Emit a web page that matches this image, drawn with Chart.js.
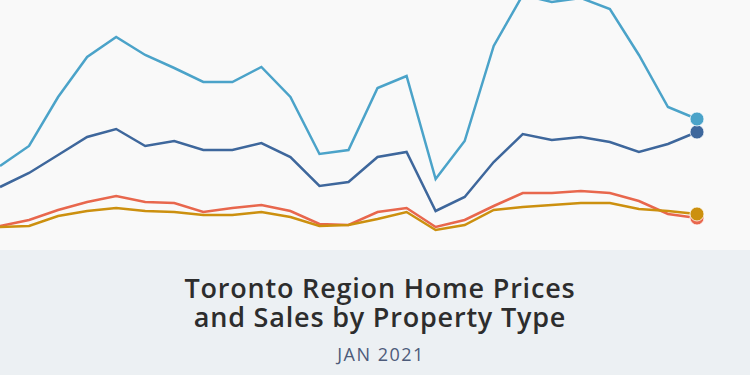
<!DOCTYPE html>
<html>
<head>
<meta charset="utf-8">
<script src="https://cdn.jsdelivr.net/npm/chart.js@4.4.1/dist/chart.umd.min.js"></script>
<style>
  html,body{margin:0;padding:0;background:#f9f9f9;}
  #wrap{position:relative;width:750px;height:375px;overflow:hidden;background:#f9f9f9;}
  #chartBox{position:absolute;left:0;top:0;width:750px;height:250px;}
  #band{position:absolute;left:0;top:250px;width:750px;height:125px;background:#ecf0f3;}
  .t{position:absolute;left:0;width:750px;text-align:center;white-space:nowrap;font-family:"Open Sans",sans-serif;}
  #t1,#t2{left:5px;font-size:27px;font-weight:600;color:#2d2d2d;line-height:29px;letter-spacing:0.8px;}
  #t1{top:23px;}
  #t2{top:52px;}
  #sub{left:6px;top:94px;font-size:18px;line-height:20px;color:#4d5b7a;letter-spacing:1.5px;}
</style>
</head>
<body>
<div id="wrap">
  <div id="chartBox"><canvas id="chartGrafik" width="750" height="250"></canvas></div>
  <div id="band">
    <div class="t" id="t1">Toronto Region Home Prices</div>
    <div class="t" id="t2">and Sales by Property Type</div>
    <div class="t" id="sub">JAN 2021</div>
  </div>
</div>
<script>
document.addEventListener("DOMContentLoaded",()=>{

// ================= DATA =================
const bulan = [
  "Jan 2019","Feb 2019","Mar 2019","Apr 2019","May 2019","Jun 2019","Jul 2019","Aug 2019",
  "Sep 2019","Oct 2019","Nov 2019","Dec 2019","Jan 2020","Feb 2020","Mar 2020","Apr 2020",
  "May 2020","Jun 2020","Jul 2020","Aug 2020","Sep 2020","Oct 2020","Nov 2020","Dec 2020","Jan 2021"
];

const lightBlue = [84,104,153,193,213,195,182,168,168,183,153,96,100,162,174,71,109,204,255,248,252,241,195,143,131];
const darkBlue  = [63,77,95,113,121,104,109,100,100,107,93,64,68,93,98,39,53,88,116,110,113,108,98,106,118];
const gold      = [23,24,34,39,42,39,38,35,35,38,33,24,25,31,38,20,25,40,43,45,47,47,41,39,36];
const merah     = [24,30,40,48,54,48,47,38,42,45,39,26,25,38,42,23,30,44,57,57,59,57,49,36,32];

// ================= WARNA =================
const seriesCfg = [
  { data: lightBlue, color: "#4ba3c9" },
  { data: darkBlue,  color: "#3e679c" },
  { data: gold,      color: "#cc900f" },
  { data: merah,     color: "#e8674d" }
];

const last = bulan.length - 1;

const ctx = document.getElementById("chartGrafik").getContext("2d");

new Chart(ctx,{
  type:"line",
  data:{
    labels: bulan,
    datasets: seriesCfg.map(s=>({
      data: s.data,
      borderColor: s.color,
      backgroundColor: s.color,
      borderWidth: 2.5,
      tension: 0,
      fill: false,
      // titik hanya di bulan terakhir
      pointRadius: c => c.dataIndex === last ? 7 : 0,
      pointHoverRadius: 0,
      pointBorderColor: "#ffffff",
      pointBorderWidth: 0.8,
      pointBackgroundColor: s.color
    }))
  },
  options:{
    responsive:false,
    animation:false,
    layout:{ autoPadding:false, padding:{ left:0, right:53, top:0, bottom:0 } },
    plugins:{
      legend:{ display:false },
      title:{ display:false },
      tooltip:{ enabled:false }
    },
    scales:{
      x:{ display:false },
      y:{ display:false, min:0, max:250 }
    }
  }
});

});
</script>
</body>
</html>
